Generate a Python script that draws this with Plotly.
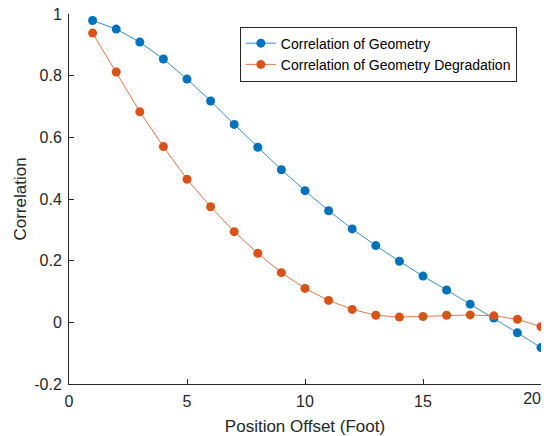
import plotly.graph_objects as go

offsets = list(range(1, 21))
corr_geometry = [0.979, 0.951, 0.909, 0.854, 0.789, 0.718, 0.642, 0.568, 0.495, 0.427,
                 0.362, 0.303, 0.249, 0.198, 0.150, 0.105, 0.059, 0.014, -0.034, -0.082]
corr_degradation = [0.938, 0.812, 0.683, 0.570, 0.464, 0.375, 0.294, 0.224, 0.161, 0.110,
                    0.071, 0.042, 0.023, 0.017, 0.019, 0.023, 0.024, 0.021, 0.010, -0.014]
series_names = ["Correlation of Geometry", "Correlation of Geometry Degradation"]
x_ticks = [0, 5, 10, 15, 20]
x_tick_labels = ["0", "5", "10", "15", "20"]
y_ticks = [-0.2, 0, 0.2, 0.4, 0.6, 0.8, 1]
y_tick_labels = ["-0.2", "0", "0.2", "0.4", "0.6", "0.8", "1"]

blue = "#0072BD"
orange = "#D95319"

fig = go.Figure()
fig.add_trace(go.Scatter(x=offsets, y=corr_geometry, mode="lines+markers", name=series_names[0],
                         line=dict(color=blue, width=0.8),
                         marker=dict(color=blue, size=9, line=dict(width=0))))
fig.add_trace(go.Scatter(x=offsets, y=corr_degradation, mode="lines+markers", name=series_names[1],
                         line=dict(color=orange, width=0.8),
                         marker=dict(color=orange, size=9, line=dict(width=0))))
# invisible helper trace so that the overlay axis for the last x label is drawn
fig.add_trace(go.Scatter(x=[x_ticks[-1]], y=[y_ticks[0]], xaxis="x2", mode="markers",
                         marker=dict(opacity=0), showlegend=False, hoverinfo="skip"))

axis_font = dict(family="Arial, Liberation Sans, sans-serif", size=16, color="#262626")
# main axis: all labels but the last (MATLAB shifts the last one left to fit)
main_text = x_tick_labels[:-1] + [""]
fig.update_layout(
    width=547, height=436,
    margin=dict(l=69, r=6, t=14, b=52),
    plot_bgcolor="white", paper_bgcolor="white",
    font=dict(family="Arial, Liberation Sans, sans-serif", size=16, color="#262626"),
    showlegend=True,
    legend=dict(x=0.362, y=0.966, xanchor="left", yanchor="top",
                bordercolor="#262626", borderwidth=1, bgcolor="white",
                font=dict(size=14, color="#000000"), tracegroupgap=0,
                itemwidth=30),
    xaxis=dict(range=[0, 20], tickvals=x_ticks, ticktext=main_text, ticks="inside", ticklen=5,
               tickcolor="#262626", showline=True, linecolor="#262626", linewidth=1,
               showgrid=False, zeroline=False, tickfont=axis_font, ticklabeloverflow="allow",
               ticklabelstandoff=3, automargin=False,
               title=dict(text="Position Offset (Foot)", font=dict(size=17), standoff=12)),
    xaxis2=dict(range=[0, 20], overlaying="x", side="bottom", anchor="y",
                tickvals=[x_ticks[-1]], ticktext=[x_tick_labels[-1]], ticks="",
                ticklabelposition="outside left", showline=False, showgrid=False,
                zeroline=False, tickfont=axis_font, ticklabeloverflow="allow",
                ticklabelstandoff=3, automargin=False),
    yaxis=dict(range=[-0.2, 1], tickvals=y_ticks, ticktext=y_tick_labels, ticks="inside",
               ticklen=5, tickcolor="#262626", showline=True, linecolor="#262626", linewidth=1,
               showgrid=False, zeroline=False, tickfont=axis_font, ticklabeloverflow="allow",
               ticklabelstandoff=3, automargin=False,
               title=dict(text="Correlation", font=dict(size=17), standoff=3)),
)

fig.write_html("out.html")
